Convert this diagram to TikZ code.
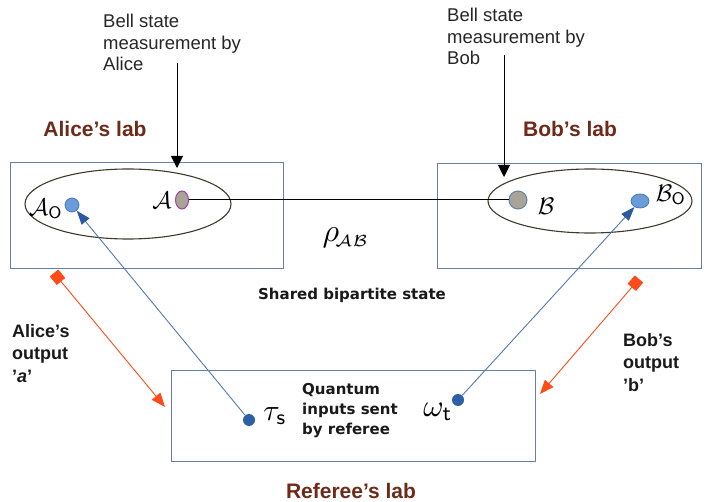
\documentclass[tikz,border=0pt]{standalone}
\usepackage{fontspec}
\setmainfont{Liberation Sans}
\newfontfamily\djv{DejaVu Sans}
\usetikzlibrary{arrows.meta,shapes.geometric}
\definecolor{boxline}{HTML}{6A7FA8}
\definecolor{ellline}{HTML}{3C3A2C}
\definecolor{labbrown}{HTML}{6E2A18}
\definecolor{dotlight}{HTML}{6B9BD8}
\definecolor{dotlightb}{HTML}{4A78B8}
\definecolor{dotdark}{HTML}{2C5FA8}
\definecolor{arrblue}{HTML}{5577AA}
\definecolor{tipblue}{HTML}{2A5AA0}
\definecolor{orng}{HTML}{FF4A1A}
\definecolor{greyfill}{HTML}{A8A498}
\definecolor{purp}{HTML}{A040A0}
\tikzset{
  labbox/.style={draw=boxline, line width=1pt, inner sep=0pt},
  ell/.style={ellipse, draw=ellline, line width=1.1pt, inner sep=0pt},
  dotnode/.style={inner sep=0pt},
  bluearr/.style={draw=arrblue, line width=0.9pt, -{Triangle[length=14pt,width=10pt,fill=tipblue,color=tipblue]}},
  blackarr/.style={draw=black, line width=1pt, -{Triangle[length=12pt,width=12pt]}},
  orarr/.style={draw=orng, line width=0.9pt, {Square[length=11pt,width=11pt,fill=orng,color=orng,sep=0pt]}-{Triangle[length=14pt,width=11pt,fill=orng,color=orng]}},
  plain/.style={font=\fontsize{18.5}{21.5}\selectfont, align=left, inner sep=0pt, text=black!85},
  boldtxt/.style={font=\fontsize{18}{22.5}\selectfont\bfseries, align=left, inner sep=0pt, text=black!90},
  djtxt/.style={font=\djv\fontsize{15}{20}\selectfont\bfseries, align=left, inner sep=0pt, text=black!90},
  title/.style={font=\fontsize{21}{24}\selectfont\bfseries, inner sep=0pt, text=labbrown},
  mathlbl/.style={inner sep=0pt, font=\normalsize}
}
\begin{document}
\begin{tikzpicture}[x=1pt,y=-1pt]
\useasboundingbox (0,0) rectangle (704,502);
% boxes
\node[labbox, minimum width=273pt, minimum height=106pt] (alicebox) at (146.5,216) {};
\node[labbox, minimum width=264pt, minimum height=105pt] (bobbox) at (569,216.5) {};
\node[labbox, minimum width=364pt, minimum height=90pt] (refbox) at (353,416) {};
% ellipses
\node[ell, minimum width=206pt, minimum height=70pt] (aell) at (128,204) {};
\node[ell, minimum width=204pt, minimum height=64pt] (bell) at (590,201) {};
% dots
\node[dotnode, circle, fill=dotlight, draw=dotlightb, line width=0.8pt, minimum size=14pt] (a0) at (72,205) {};
\node[dotnode, ellipse, fill=greyfill, draw=purp, line width=1pt, minimum width=13pt, minimum height=18pt] (adot) at (182,200) {};
\node[dotnode, circle, fill=greyfill, draw=boxline, line width=1pt, minimum size=18pt] (bdot) at (518,200) {};
\node[dotnode, ellipse, fill=dotlight, draw=dotlightb, line width=0.8pt, minimum width=18pt, minimum height=14pt] (b0) at (640,201) {};
\node[dotnode, circle, fill=dotdark, minimum size=12pt] (tau) at (249,420) {};
\node[dotnode, circle, fill=dotdark, minimum size=12pt] (omega) at (458,400) {};
% math labels
\node[mathlbl, scale=2.4] (a0lbl) at (46,209) {$\mathcal{A}_{\mathsf{O}}$};
\node[mathlbl, scale=2.4] (albl) at (162,200) {$\mathcal{A}$};
\node[mathlbl, scale=2.4] (blbl) at (546,206) {$\mathcal{B}$};
\node[mathlbl, scale=2.4] (b0lbl) at (671,195) {$\mathcal{B}_{\mathsf{O}}$};
\node[mathlbl, scale=3.2] (rho) at (346,238) {$\rho_{\!\scriptscriptstyle\mathcal{AB}}$};
\node[mathlbl, scale=3.0] (taulbl) at (275,416) {$\tau_{\mathsf{s}}$};
\node[mathlbl, scale=3.1] (omlbl) at (438,412) {$\omega_{\mathsf{t}}$};
% connector between A and B
\draw[black, line width=1pt] (adot.east) -- (bdot.west);
% blue arrows
\draw[bluearr] (tau) -- (a0);
\draw[bluearr] (omega) -- (b0);
% bell measurement arrows
\coordinate (bmA1) at (177,63);
\coordinate (bmA2) at (177,168);
\coordinate (bmB1) at (504,55);
\coordinate (bmB2) at (504,177);
\draw[blackarr] (bmA1) -- (bmA2);
\draw[blackarr] (bmB1) -- (bmB2);
% orange arrows
\coordinate (oa1) at (54,273);
\coordinate (oa2) at (165,407);
\coordinate (ob1) at (639,279);
\coordinate (ob2) at (540,394);
\draw[orarr] (oa1) -- (oa2);
\draw[orarr] (ob1) -- (ob2);
% texts
\node[plain, anchor=north west] (bellA) at (103,14) {Bell state\\measurement by\\Alice};
\node[plain, anchor=north west] (bellB) at (447,8) {Bell state\\measurement by\\Bob};
\node[title] (alicelab) at (95,129) {Alice's lab};
\node[title] (boblab) at (570,129) {Bob's lab};
\node[title] (reflab) at (351,491) {Referee's lab};
\node[djtxt] (shared) at (352,295) {Shared bipartite state};
\node[djtxt, anchor=north west] (qin) at (302,383) {Quantum\\inputs sent\\by referee};
\node[boldtxt, anchor=north west] (aout) at (12,324) {Alice's\\output\\'\textit{a}'};
\node[boldtxt, anchor=north west] (bout) at (623,333) {Bob's\\output\\'b'};
\end{tikzpicture}
\end{document}
